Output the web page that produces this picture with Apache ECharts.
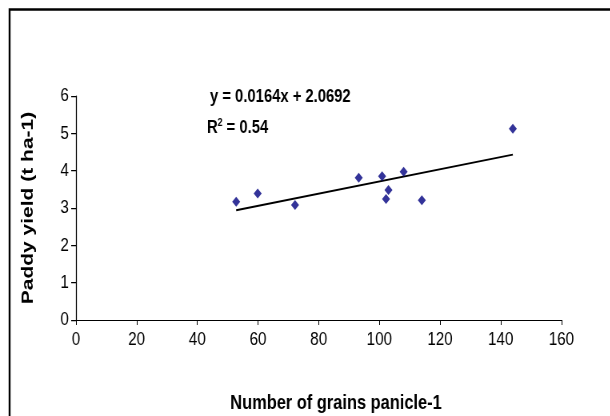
<!DOCTYPE html>
<html>
<head>
<meta charset="utf-8">
<script src="https://cdn.jsdelivr.net/npm/echarts@6/dist/echarts.min.js"></script>
<style>
html,body{margin:0;padding:0;background:#fff;overflow:hidden;}
#wrap{width:610px;height:416px;overflow:hidden;position:relative;}
#c{width:762.5px;height:416px;transform:scaleX(0.8);transform-origin:0 0;position:absolute;left:0;top:0;}
</style>
</head>
<body>
<div id="wrap"><div id="c"></div></div>
<script>
const grains = [52.8, 59.9, 72.2, 93.2, 100.9, 102.2, 103.0, 108.0, 114.0, 144.0];
const yieldT = [3.17, 3.39, 3.08, 3.81, 3.85, 3.24, 3.48, 3.97, 3.21, 5.12];
const trendX = [52.8, 144.0];
const trendY = [2.94, 4.43];
const xTicks = [0, 20, 40, 60, 80, 100, 120, 140, 160];
const yTicks = [0, 1, 2, 3, 4, 5, 6];
const xTitle = 'Number of grains panicle-1';
const yTitle = 'Paddy yield (t ha-1)';
const equation = 'y = 0.0164x + 2.0692';
const r2 = '0.54';

const SX = 0.8; // horizontal squeeze of the original picture
const chart = echarts.init(document.getElementById('c'), null, {renderer: 'canvas'});
const font = '"Liberation Sans", Arial, sans-serif';
chart.setOption({
  backgroundColor: '#fff',
  animation: false,
  grid: {left: 76 / SX, right: 49 / SX, top: 96, bottom: 96, containLabel: false},
  xAxis: {
    type: 'value', min: xTicks[0], max: xTicks[xTicks.length - 1], interval: 20,
    axisLine: {lineStyle: {color: '#000', width: 1}},
    axisTick: {show: true, length: 5, inside: false, lineStyle: {color: '#000'}},
    axisLabel: {fontFamily: font, fontSize: 19, color: '#000', margin: 10},
    splitLine: {show: false}
  },
  yAxis: {
    type: 'value', min: yTicks[0], max: yTicks[yTicks.length - 1], interval: 1,
    axisLine: {show: true, lineStyle: {color: '#000', width: 1.25}},
    axisTick: {show: true, length: 6, lineStyle: {color: '#000', width: 1.25}},
    axisLabel: {fontFamily: font, fontSize: 19, color: '#000', margin: 9},
    splitLine: {show: false}
  },
  series: [
    {
      type: 'line', data: trendX.map((x, i) => [x, trendY[i]]),
      symbol: 'none', lineStyle: {color: '#000', width: 2}, z: 2
    },
    {
      type: 'scatter', data: grains.map((x, i) => [x, yieldT[i]]),
      symbol: 'diamond', symbolSize: [10, 10],
      itemStyle: {color: '#000080'}, z: 3
    }
  ],
  graphic: [
    {type: 'rect', shape: {x: 12, y: 9.5, width: 900, height: 500},
     style: {fill: 'none', stroke: '#000', lineWidth: 2.4}, silent: true},
    {type: 'text', x: 336 / SX, y: 403,
     style: {text: xTitle, fontFamily: font, fontWeight: 'bold', fontSize: 20.5, fill: '#000', align: 'center', verticalAlign: 'middle'}},
    {type: 'text', x: 28 / SX, y: 208, rotation: Math.PI / 2,
     style: {text: yTitle, fontFamily: font, fontWeight: 'bold', fontSize: 21, fill: '#000', align: 'center', verticalAlign: 'middle'}},
    {type: 'text', x: 210 / SX, y: 87,
     style: {text: equation, fontFamily: font, fontWeight: 'bold', fontSize: 18.5, fill: '#000'}},
    {type: 'text', x: 207 / SX, y: 117,
     style: {text: '{r|R}{s|2}{r| = ' + r2 + '}', fontFamily: font, fontWeight: 'bold', fontSize: 18.5, fill: '#000',
       rich: {r: {fontFamily: font, fontWeight: 'bold', fontSize: 18.5, lineHeight: 20, verticalAlign: 'bottom'},
              s: {fontFamily: font, fontWeight: 'bold', fontSize: 11, lineHeight: 20, verticalAlign: 'top', padding: [0, 0, 9, 0]}}}}
  ]
});
</script>
</body>
</html>
